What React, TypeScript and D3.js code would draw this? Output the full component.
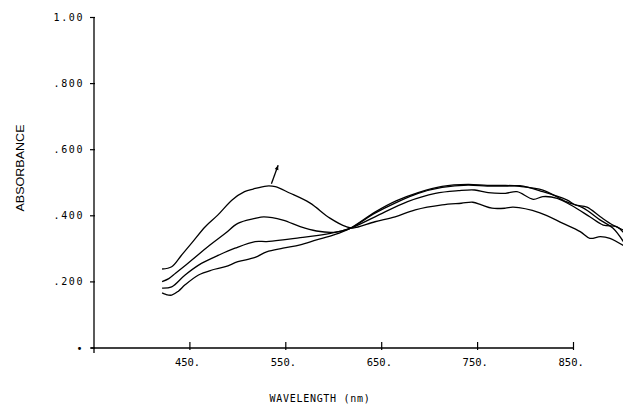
import React from "react";
import * as d3 from "d3";

// spectra: [wavelength nm, absorbance]
const spectrum1: [number, number][] = [
  [421, 0.239], [431, 0.246], [441, 0.28], [452, 0.318], [466, 0.367], [479, 0.402],
  [494, 0.448], [507, 0.473], [516, 0.481], [530, 0.49], [539, 0.488], [554, 0.469],
  [575, 0.439], [596, 0.393], [613, 0.367], [620, 0.363], [643, 0.382], [664, 0.397],
  [685, 0.418], [713, 0.433], [733, 0.438], [745, 0.441], [754, 0.433], [765, 0.423],
  [779, 0.423], [787, 0.426], [815, 0.409], [839, 0.377], [857, 0.352], [867, 0.332],
  [878, 0.337], [888, 0.332], [902, 0.31],
];
const spectrum2: [number, number][] = [
  [421, 0.201], [428, 0.21], [435, 0.226], [452, 0.266], [469, 0.307], [487, 0.347],
  [500, 0.377], [518, 0.392], [527, 0.397], [547, 0.387], [565, 0.367], [582, 0.354],
  [600, 0.35], [617, 0.362], [643, 0.397], [677, 0.443], [706, 0.468], [730, 0.476],
  [747, 0.478], [761, 0.47], [779, 0.468], [791, 0.473], [808, 0.45], [818, 0.458],
  [833, 0.453], [850, 0.428], [867, 0.397], [881, 0.372], [895, 0.367], [902, 0.35],
];
const spectrum3: [number, number][] = [
  [421, 0.181], [431, 0.185], [445, 0.221], [462, 0.256], [480, 0.281], [497, 0.302],
  [518, 0.322], [530, 0.322], [547, 0.327], [565, 0.334], [582, 0.34], [600, 0.349],
  [617, 0.362], [643, 0.408], [665, 0.44], [688, 0.468], [713, 0.486], [740, 0.493],
  [760, 0.49], [779, 0.49], [794, 0.491], [818, 0.473], [843, 0.448], [852, 0.433],
  [864, 0.426], [878, 0.397], [891, 0.372], [902, 0.357],
];
const spectrum4: [number, number][] = [
  [421, 0.167], [425, 0.162], [431, 0.16], [438, 0.172], [445, 0.191], [459, 0.221],
  [473, 0.236], [487, 0.246], [500, 0.261], [518, 0.274], [530, 0.291], [547, 0.302],
  [565, 0.312], [582, 0.327], [600, 0.342], [617, 0.362], [643, 0.411], [665, 0.445],
  [688, 0.47], [713, 0.489], [740, 0.495], [760, 0.492], [779, 0.492], [794, 0.489],
  [818, 0.478], [843, 0.442], [860, 0.424], [878, 0.387], [891, 0.363], [902, 0.322],
];
const spectra = [spectrum1, spectrum2, spectrum3, spectrum4];

const xTicks = [450, 550, 650, 750, 850];
const xTickLabels = ["450.", "550.", "650.", "750.", "850."];
const yTicks = [0, 0.2, 0.4, 0.6, 0.8, 1.0];
const yTickLabels = ["•", ".200", ".400", ".600", ".800", "1.00"];
// arrow marks growth of the 520 nm band
const arrowFrom: [number, number] = [535, 0.497];
const arrowTo: [number, number] = [542, 0.553];

const W = 623;
const H = 406;
const left = 94;
const right = 573.5;
const top = 17.5;
const bottom = 348;

const mono = "'DejaVu Sans Mono', monospace";

export default function App() {
  const x = d3.scaleLinear().domain([350, 850]).range([left, right]);
  const y = d3.scaleLinear().domain([0, 1]).range([bottom, top]);
  const line = d3
    .line<[number, number]>()
    .x((d) => x(d[0]))
    .y((d) => y(d[1]))
    .curve(d3.curveCatmullRom.alpha(0.5));

  const ax1 = x(arrowFrom[0]);
  const ay1 = y(arrowFrom[1]);
  const ax2 = x(arrowTo[0]);
  const ay2 = y(arrowTo[1]);
  const ang = Math.atan2(ay2 - ay1, ax2 - ax1);
  const headLen = 5;
  const head = [
    [ax2, ay2],
    [ax2 - headLen * Math.cos(ang - 0.4), ay2 - headLen * Math.sin(ang - 0.4)],
    [ax2 - headLen * Math.cos(ang + 0.4), ay2 - headLen * Math.sin(ang + 0.4)],
  ]
    .map((p) => p.join(","))
    .join(" ");

  return (
    <svg
      width={W}
      height={H}
      style={{ position: "absolute", left: 0, top: 0, background: "#fff" }}
    >
      {/* axes */}
      <line x1={left} x2={left} y1={top} y2={bottom + 5} stroke="#000" strokeWidth={1.3} />
      <line x1={left - 3} x2={right} y1={bottom} y2={bottom} stroke="#000" strokeWidth={1.3} />
      {yTicks.map((t, i) => (
        <g key={"y" + t}>
          <line x1={left - 4} x2={left + 1} y1={y(t)} y2={y(t)} stroke="#000" strokeWidth={1.2} />
          <text
            x={84}
            y={y(t)}
            dy="0.35em"
            textAnchor="end"
            fontFamily={mono}
            fontSize={10}
            letterSpacing={1.6}
          >
            {yTickLabels[i]}
          </text>
        </g>
      ))}
      {xTicks.map((t, i) => (
        <g key={"x" + t}>
          <line x1={x(t)} x2={x(t)} y1={bottom - 6} y2={bottom + 2} stroke="#000" strokeWidth={1.2} />
          <text x={x(t) - 15} y={y(0) + 18} fontFamily={mono} fontSize={10.5}>
            {xTickLabels[i]}
          </text>
        </g>
      ))}
      <text
        x={320}
        y={402}
        textAnchor="middle"
        fontFamily={mono}
        fontSize={10}
        letterSpacing={0.7}
      >
        WAVELENGTH (nm)
      </text>
      <text
        transform="translate(24,168) rotate(-90)"
        textAnchor="middle"
        fontFamily="'Liberation Sans', Arial, sans-serif"
        fontSize={10}
        textLength={87}
        lengthAdjust="spacingAndGlyphs"
      >
        ABSORBANCE
      </text>

      {/* spectra */}
      {spectra.map((s, i) => (
        <path key={i} d={line(s) || ""} fill="none" stroke="#000" strokeWidth={1.3} />
      ))}

      {/* arrow */}
      <line x1={ax1} y1={ay1} x2={ax2} y2={ay2} stroke="#000" strokeWidth={1.3} />
      <polygon points={head} fill="#000" />
    </svg>
  );
}
